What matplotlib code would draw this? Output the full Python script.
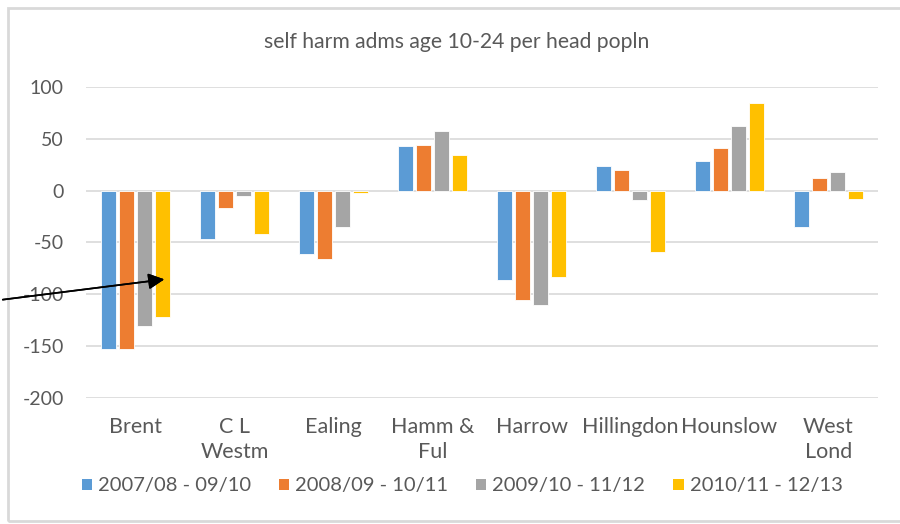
import matplotlib.pyplot as plt
import numpy as np
from matplotlib.patches import Rectangle, Patch

# ---------- data ----------
boroughs = ['Brent', 'C L\nWestm', 'Ealing', 'Hamm &\nFul', 'Harrow',
            'Hillingdon', 'Hounslow', 'West\nLond']
periods = ['2007/08 - 09/10', '2008/09 - 10/11', '2009/10 - 11/12', '2010/11 - 12/13']

p0708 = [-153, -47, -61, 43, -86, 24, 29, -35]
p0809 = [-153, -17, -66, 44, -105, 20, 41, 12]
p0910 = [-131, -5, -35, 58, -110, -9, 62, 18]
p1011 = [-122, -42, -2, 34, -83, -59, 85, -8]

colours = ['#5B9BD5', '#ED7D31', '#A5A5A5', '#FFC000']
txt_col = '#595959'

plt.rcParams['font.family'] = ['Lato', 'DejaVu Sans']
plt.rcParams['axes.unicode_minus'] = False

fig = plt.figure(figsize=(9, 5.24), dpi=100)
ax = fig.add_axes([86/900, 1-398/524, (878-86)/900, (398-87)/524])

x = np.arange(len(boroughs))
w = 0.152
pitch = 0.18
for k, vals in enumerate([p0708, p0809, p0910, p1011]):
    ax.bar(x + (k-1.5)*pitch, vals, width=w, color=colours[k],
           edgecolor='white', linewidth=0.6, zorder=3, label=periods[k])

ax.set_xlim(-0.5, len(boroughs)-0.5)
ax.set_ylim(-200, 100)
ax.set_yticks(np.arange(-200, 101, 50))
ax.yaxis.grid(True, color='#D9D9D9', linewidth=1.2, zorder=0)
ax.set_axisbelow(True)
for s in ax.spines.values():
    s.set_visible(False)
ax.tick_params(axis='y', length=0, pad=16, labelsize=14, labelcolor=txt_col)
ax.set_xticks(x)
ax.set_xticklabels(boroughs, fontsize=15.5, color=txt_col, linespacing=1.3)
ax.tick_params(axis='x', length=0, pad=14)

fig.text(457/900, 1-42/524, 'self harm adms age 10-24 per head popln',
         ha='center', va='center', fontsize=15.2, color=txt_col)

handles = [Patch(facecolor=c, edgecolor='none') for c in colours]
leg = fig.legend(handles, periods, loc='center', bbox_to_anchor=(462/900, 1-486/524),
                 ncol=4, frameon=False, fontsize=14.5, handlelength=0.5, handleheight=0.5,
                 handletextpad=0.3, columnspacing=1.4)
for t in leg.get_texts():
    t.set_color(txt_col)

# chart border
fig.add_artist(Rectangle((8/900, 1-521/524), 1.0, (521-8)/524, transform=fig.transFigure,
                         fill=False, edgecolor='#D9D9D9', linewidth=2, zorder=0))

# arrow
fig.add_artist(plt.annotate('', xy=(167/900, 1-279/524), xytext=(0, 1-300/524),
                            xycoords='figure fraction', textcoords='figure fraction',
                            arrowprops=dict(arrowstyle='-|>', mutation_scale=24,
                                            lw=1.2, color='black')))

fig.savefig('out.png', dpi=100)
